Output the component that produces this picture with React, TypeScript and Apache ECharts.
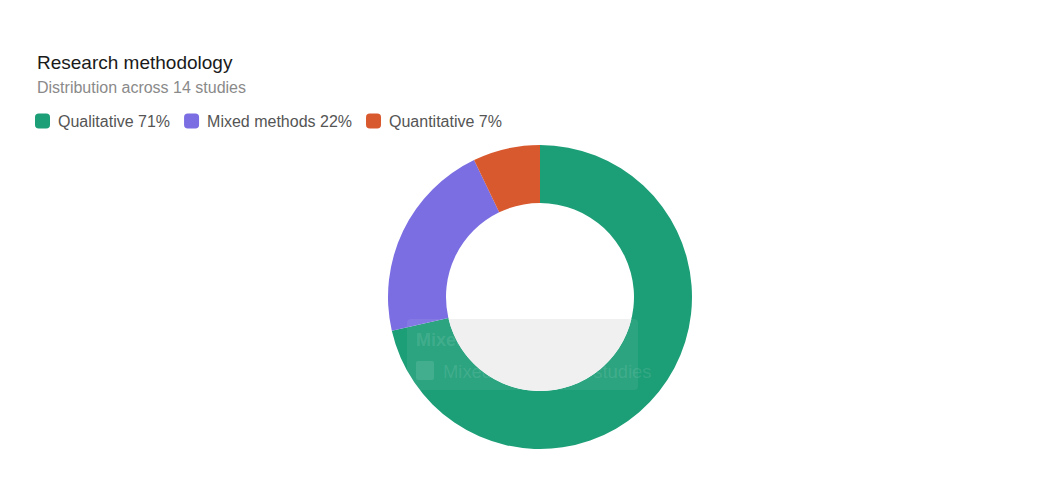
import React, { useEffect, useRef } from "react";
import * as echarts from "echarts";

const categories = ["Qualitative", "Mixed methods", "Quantitative"];
const studyCounts = [10, 3, 1];
const percentLabels = ["71%", "22%", "7%"];
const colors = ["#1c9e77", "#7a6ee2", "#d9592f"];
const titleText = "Research methodology";
const subtitleText = "Distribution across 14 studies";
const ghostTitle = "Mixed methods";
const ghostRow = "Mixed methods: 3 studies";

const FONT = "'Liberation Sans', Arial, Helvetica, sans-serif";

echarts.graphic.registerShape(
  "holeShade",
  echarts.graphic.extendPath("M448.6 319 A94 94 0 0 0 631.4 319 Z", {})
);

export default function App() {
  const ref = useRef<HTMLDivElement>(null);
  useEffect(() => {
    if (!ref.current) return;
    const chart = echarts.init(ref.current, undefined, { renderer: "svg" });
    const labelOf: Record<string, string> = {};
    categories.forEach((c, i) => (labelOf[c] = percentLabels[i]));
    chart.setOption({
      animation: false,
      backgroundColor: "#ffffff",
      color: colors,
      title: {
        text: titleText,
        subtext: subtitleText,
        left: 37,
        top: 53,
        padding: 0,
        itemGap: 7,
        textStyle: { fontFamily: FONT, fontSize: 19, fontWeight: "normal", color: "#1a1a1a" },
        subtextStyle: { fontFamily: FONT, fontSize: 16, color: "#8a8a8a" },
      },
      legend: {
        left: 35,
        top: 113,
        padding: 0,
        itemWidth: 15,
        itemHeight: 15,
        itemGap: 14,
        icon: "roundRect",
        data: categories,
        formatter: (name: string) => `${name} ${labelOf[name]}`,
        textStyle: { fontFamily: FONT, fontSize: 16, color: "#555555", padding: [0, 0, 0, 3] },
      },
      series: [
        {
          type: "pie",
          center: [540, 297],
          radius: [94, 152],
          startAngle: 90,
          clockwise: true,
          label: { show: false },
          labelLine: { show: false },
          itemStyle: { borderWidth: 0 },
          emphasis: { disabled: true },
          data: categories.map((c, i) => ({ name: c, value: studyCounts[i] })),
        },
      ],
      graphic: [
        {
          type: "group",
          silent: true,
          children: [
            {
              type: "rect",
              z: 101,
              shape: { x: 407, y: 319, width: 231, height: 71, r: 4 },
              style: { fill: "rgba(255,255,255,0.07)" },
            },
            {
              type: "text",
              z: 102,
              x: 416,
              y: 340,
              style: {
                text: ghostTitle,
                font: `bold 18px ${FONT}`,
                fill: "rgba(255,255,255,0.11)",
                verticalAlign: "middle",
              },
            },
            {
              type: "rect",
              z: 102,
              shape: { x: 416, y: 361, width: 18, height: 19, r: 2 },
              style: { fill: "rgba(255,255,255,0.11)" },
            },
            {
              type: "text",
              z: 102,
              x: 443,
              y: 371,
              style: {
                text: ghostRow,
                font: `18.4px ${FONT}`,
                fill: "rgba(255,255,255,0.11)",
                verticalAlign: "middle",
              },
            },
            {
              type: "holeShade",
              z: 103,
              x: 0,
              y: 0,
              style: { fill: "#f0f0f0" },
            },
          ],
        },
      ],
    });
    return () => chart.dispose();
  }, []);
  return (
    <div
      ref={ref}
      style={{ position: "absolute", left: 0, top: 0, width: 1047, height: 477 }}
    />
  );
}
